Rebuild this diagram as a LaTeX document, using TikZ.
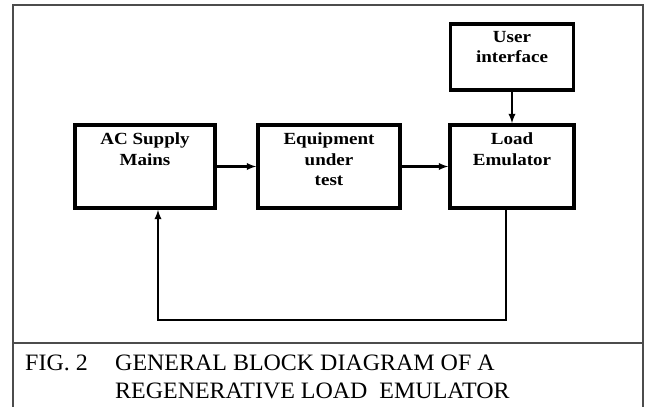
\documentclass[tikz,border=0pt]{standalone}
\usepackage{fontspec}
\setmainfont{Liberation Serif}
\newfontfamily\boxfont[FakeStretch=1.12]{Liberation Serif}
\newfontfamily\capfont[FakeStretch=1.02]{Liberation Serif}
\usepackage{tikz}
\usetikzlibrary{positioning,arrows}

\begin{document}
\begin{tikzpicture}[
x=1pt, y=1pt, >=latex,
block/.style={rectangle, draw=black, line width=3.5pt, minimum width=140pt, minimum height=83pt},
blocktext/.style={anchor=north, align=center, inner sep=0pt, font=\boxfont\bfseries\fontsize{17}{20.5}\selectfont},
conn/.style={line width=2.2pt},
caption/.style={anchor=base west, inner sep=0pt, font=\capfont\fontsize{23.5}{28}\selectfont},
]
\useasboundingbox (0,0) rectangle (646,-407);

\node[block] (mains) at (145,-166.5) {};
\node[block, minimum width=142pt] (eut) [right=39.5pt of mains] {};
\node[block, minimum width=124pt] (load) [right=46.5pt of eut] {};
\node[block, minimum width=123pt, minimum height=66pt] (ui) [above=31.5pt of load] {};

\node[blocktext] (mainstext) at ([yshift=-9.5pt]mains.north) {AC Supply\\Mains};
\node[blocktext] (euttext) at ([yshift=-9.5pt]eut.north) {Equipment\\under\\test};
\node[blocktext] (loadtext) at ([yshift=-9.5pt]load.north) {Load\\Emulator};
\node[blocktext] (uitext) at ([yshift=-8.5pt]ui.north) {User\\interface};

\draw[conn, ->] (mains.east) -- (eut.west);
\draw[conn, ->] (eut.east) -- (load.west);
\draw[conn, ->] (ui.south) -- (load.north);
\draw[conn, ->] ([xshift=-6pt]load.south) -- ++(0,-110) -| ([xshift=13pt]mains.south);

\draw[draw=black!70, line width=1.2pt] (13,-420) -- (13,-5) -- (643,-5) -- (643,-420);
\draw[draw=black!70, line width=1.2pt] (13,-343) -- (643,-343);

\node[caption] (figno) at (25,-370) {FIG. 2};
\node[caption] (capA) at (115,-370) {GENERAL BLOCK DIAGRAM OF A};
\node[caption] (capB) at (115,-398) {REGENERATIVE LOAD~~EMULATOR};

\end{tikzpicture}
\end{document}
